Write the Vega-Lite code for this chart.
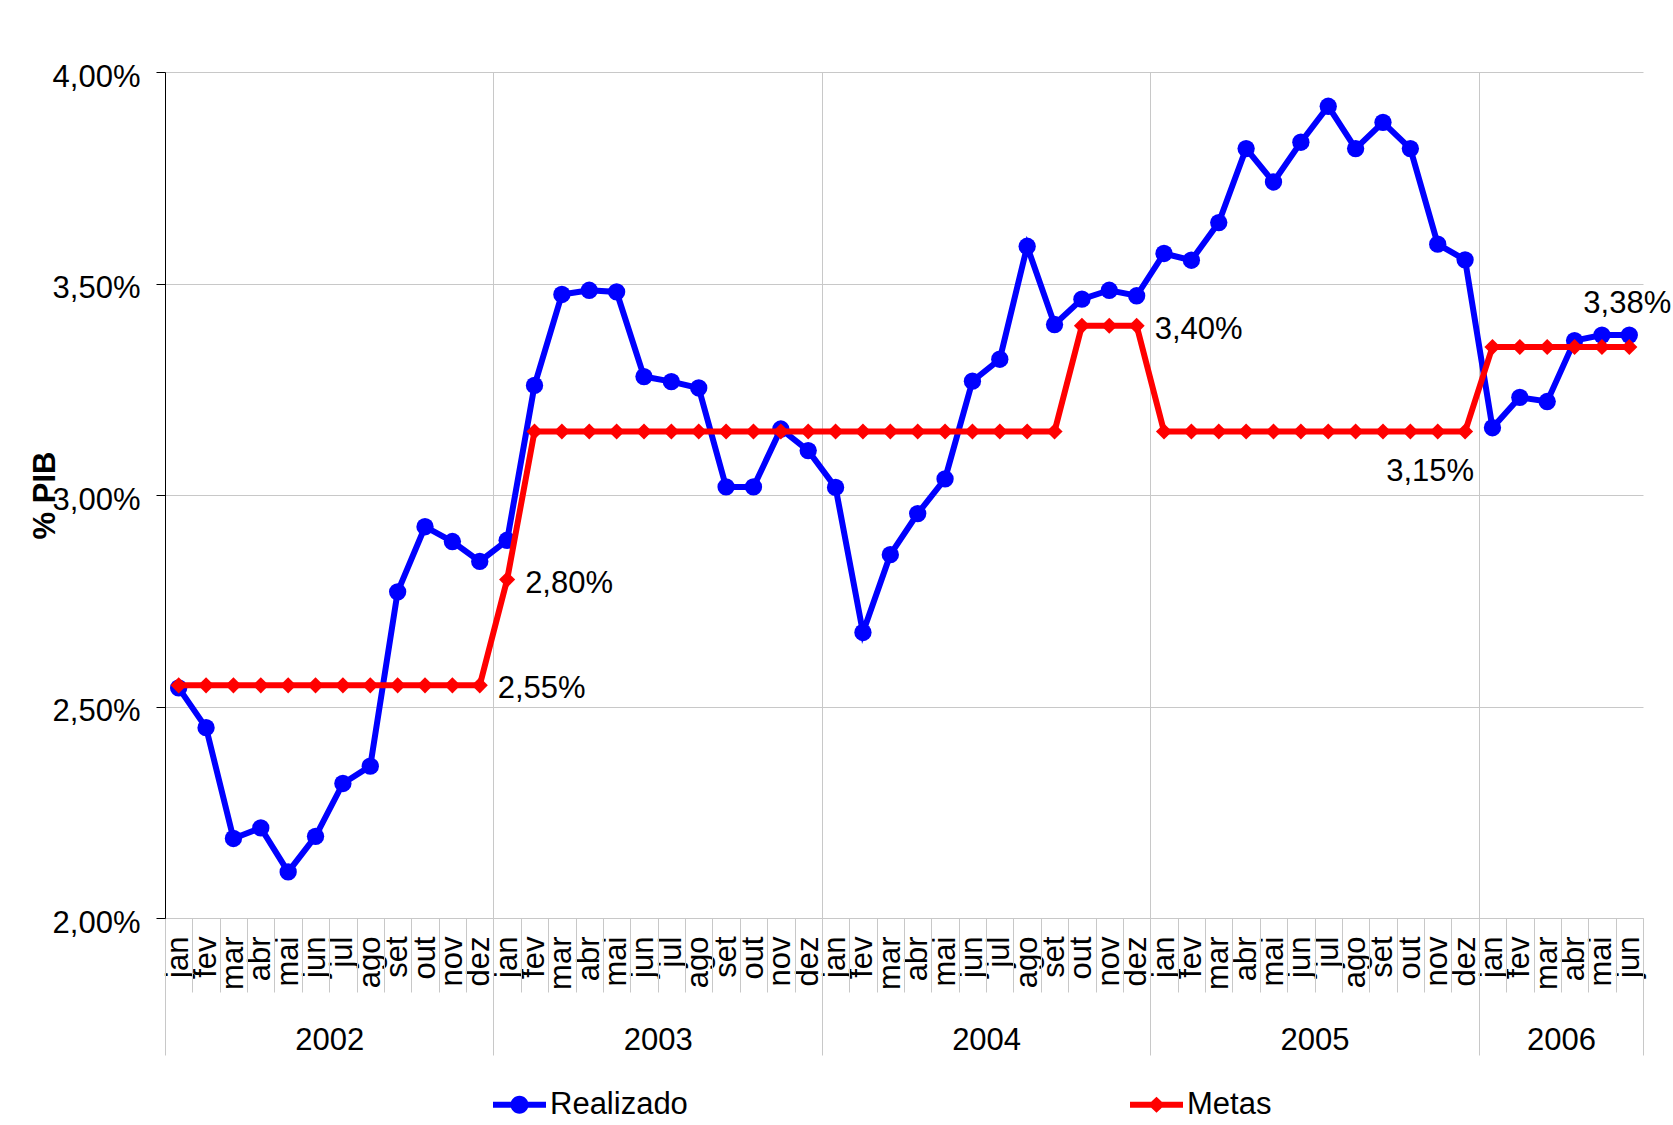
{
  "$schema": "https://vega.github.io/schema/vega-lite/v6.json",
  "width": 1478,
  "height": 846,
  "autosize": {"type": "none"},
  "padding": {"left": 165, "top": 72, "right": 30, "bottom": 207},
  "background": "white",
  "config": {"font": "Liberation Sans", "view": {"stroke": null}},
  "data": {"values": [
    {"i":0,"serie":"Realizado","valor":2.544},{"i":1,"serie":"Realizado","valor":2.45},{"i":2,"serie":"Realizado","valor":2.188},{"i":3,"serie":"Realizado","valor":2.213},{"i":4,"serie":"Realizado","valor":2.109},{"i":5,"serie":"Realizado","valor":2.193},{"i":6,"serie":"Realizado","valor":2.318},{"i":7,"serie":"Realizado","valor":2.359},{"i":8,"serie":"Realizado","valor":2.771},{"i":9,"serie":"Realizado","valor":2.925},{"i":10,"serie":"Realizado","valor":2.89},{"i":11,"serie":"Realizado","valor":2.843},
    {"i":12,"serie":"Realizado","valor":2.893},{"i":13,"serie":"Realizado","valor":3.259},{"i":14,"serie":"Realizado","valor":3.474},{"i":15,"serie":"Realizado","valor":3.484},{"i":16,"serie":"Realizado","valor":3.48},{"i":17,"serie":"Realizado","valor":3.28},{"i":18,"serie":"Realizado","valor":3.268},{"i":19,"serie":"Realizado","valor":3.253},{"i":20,"serie":"Realizado","valor":3.019},{"i":21,"serie":"Realizado","valor":3.019},{"i":22,"serie":"Realizado","valor":3.156},{"i":23,"serie":"Realizado","valor":3.105},
    {"i":24,"serie":"Realizado","valor":3.018},{"i":25,"serie":"Realizado","valor":2.675},{"i":26,"serie":"Realizado","valor":2.859},{"i":27,"serie":"Realizado","valor":2.956},{"i":28,"serie":"Realizado","valor":3.038},{"i":29,"serie":"Realizado","valor":3.269},{"i":30,"serie":"Realizado","valor":3.321},{"i":31,"serie":"Realizado","valor":3.588},{"i":32,"serie":"Realizado","valor":3.403},{"i":33,"serie":"Realizado","valor":3.463},{"i":34,"serie":"Realizado","valor":3.484},{"i":35,"serie":"Realizado","valor":3.471},
    {"i":36,"serie":"Realizado","valor":3.571},{"i":37,"serie":"Realizado","valor":3.555},{"i":38,"serie":"Realizado","valor":3.644},{"i":39,"serie":"Realizado","valor":3.819},{"i":40,"serie":"Realizado","valor":3.74},{"i":41,"serie":"Realizado","valor":3.834},{"i":42,"serie":"Realizado","valor":3.919},{"i":43,"serie":"Realizado","valor":3.819},{"i":44,"serie":"Realizado","valor":3.881},{"i":45,"serie":"Realizado","valor":3.819},{"i":46,"serie":"Realizado","valor":3.593},{"i":47,"serie":"Realizado","valor":3.556},
    {"i":48,"serie":"Realizado","valor":3.159},{"i":49,"serie":"Realizado","valor":3.231},{"i":50,"serie":"Realizado","valor":3.221},{"i":51,"serie":"Realizado","valor":3.365},{"i":52,"serie":"Realizado","valor":3.378},{"i":53,"serie":"Realizado","valor":3.378,"rotulo":"3,38%"},
    {"i":0,"serie":"Metas","valor":2.55},{"i":1,"serie":"Metas","valor":2.55},{"i":2,"serie":"Metas","valor":2.55},{"i":3,"serie":"Metas","valor":2.55},{"i":4,"serie":"Metas","valor":2.55},{"i":5,"serie":"Metas","valor":2.55},{"i":6,"serie":"Metas","valor":2.55},{"i":7,"serie":"Metas","valor":2.55},{"i":8,"serie":"Metas","valor":2.55},{"i":9,"serie":"Metas","valor":2.55},{"i":10,"serie":"Metas","valor":2.55},{"i":11,"serie":"Metas","valor":2.55,"rotulo":"2,55%"},
    {"i":12,"serie":"Metas","valor":2.8,"rotulo":"2,80%"},{"i":13,"serie":"Metas","valor":3.15},{"i":14,"serie":"Metas","valor":3.15},{"i":15,"serie":"Metas","valor":3.15},{"i":16,"serie":"Metas","valor":3.15},{"i":17,"serie":"Metas","valor":3.15},{"i":18,"serie":"Metas","valor":3.15},{"i":19,"serie":"Metas","valor":3.15},{"i":20,"serie":"Metas","valor":3.15},{"i":21,"serie":"Metas","valor":3.15},{"i":22,"serie":"Metas","valor":3.15},{"i":23,"serie":"Metas","valor":3.15},
    {"i":24,"serie":"Metas","valor":3.15},{"i":25,"serie":"Metas","valor":3.15},{"i":26,"serie":"Metas","valor":3.15},{"i":27,"serie":"Metas","valor":3.15},{"i":28,"serie":"Metas","valor":3.15},{"i":29,"serie":"Metas","valor":3.15},{"i":30,"serie":"Metas","valor":3.15},{"i":31,"serie":"Metas","valor":3.15},{"i":32,"serie":"Metas","valor":3.15},{"i":33,"serie":"Metas","valor":3.4},{"i":34,"serie":"Metas","valor":3.4},{"i":35,"serie":"Metas","valor":3.4,"rotulo":"3,40%"},
    {"i":36,"serie":"Metas","valor":3.15},{"i":37,"serie":"Metas","valor":3.15},{"i":38,"serie":"Metas","valor":3.15},{"i":39,"serie":"Metas","valor":3.15},{"i":40,"serie":"Metas","valor":3.15},{"i":41,"serie":"Metas","valor":3.15},{"i":42,"serie":"Metas","valor":3.15},{"i":43,"serie":"Metas","valor":3.15},{"i":44,"serie":"Metas","valor":3.15},{"i":45,"serie":"Metas","valor":3.15},{"i":46,"serie":"Metas","valor":3.15},{"i":47,"serie":"Metas","valor":3.15,"rotulo":"3,15%"},
    {"i":48,"serie":"Metas","valor":3.35},{"i":49,"serie":"Metas","valor":3.35},{"i":50,"serie":"Metas","valor":3.35},{"i":51,"serie":"Metas","valor":3.35},{"i":52,"serie":"Metas","valor":3.35},{"i":53,"serie":"Metas","valor":3.35}
  ]},
  "layer": [
    {
      "transform": [{"filter": "datum.serie === 'Realizado'"}],
      "mark": {"type": "line", "strokeWidth": 6},
      "encoding": {
        "x": {"field": "i", "type": "quantitative", "scale": {"domain": [-0.5, 53.5], "nice": false, "zero": false},
          "axis": {"orient": "bottom", "values": [0,1,2,3,4,5,6,7,8,9,10,11,12,13,14,15,16,17,18,19,20,21,22,23,24,25,26,27,28,29,30,31,32,33,34,35,36,37,38,39,40,41,42,43,44,45,46,47,48,49,50,51,52,53],
            "labelExpr": "['jan','fev','mar','abr','mai','jun','jul','ago','set','out','nov','dez'][datum.value % 12]",
            "labelAngle": -90, "labelFontSize": 31, "labelColor": "black", "labelPadding": 18,
            "labelOverlap": false, "labelBound": false, "labelFlush": false,
            "ticks": false, "domain": true, "domainColor": "#c8c8c8", "domainWidth": 1, "grid": false, "title": null}},
        "y": {"field": "valor", "type": "quantitative", "scale": {"domain": [2, 4], "nice": false, "zero": false},
          "axis": {"orient": "left", "values": [2, 2.5, 3, 3.5, 4],
            "labelExpr": "replace(format(datum.value, '.2f'), '.', ',') + '%'",
            "labelFontSize": 31, "labelColor": "black", "labelPadding": 16, "labelOffset": 5,
            "tickSize": 9, "tickColor": "black", "domainColor": "black",
            "grid": true, "gridColor": "#c8c8c8",
            "title": "% PIB", "titleFontSize": 31, "titleFontWeight": "bold", "titleColor": "black",
            "titleAngle": -90, "titleX": -120, "titleY": 423, "titleAlign": "center", "titleBaseline": "middle"}},
        "color": {"field": "serie", "type": "nominal", "scale": {"domain": ["Realizado", "Metas"], "range": ["#0000ff", "#ff0000"]},
          "legend": {"title": null, "orient": "none", "legendX": 328, "legendY": 1006, "direction": "horizontal", "columns": 2,
            "columnPadding": 442, "labelFontSize": 31, "labelColor": "black", "labelOffset": 4,
            "symbolSize": 2809, "symbolStrokeWidth": 0,
            "encode": {"symbols": {"update": {
              "shape": {"signal": "datum.value === 'Realizado' ? 'M-1,-0.11H1V0.11H-1Z M-0.34,0A0.34,0.34 0 1,1 0.34,0A0.34,0.34 0 1,1 -0.34,0Z' : 'M-1,-0.11H1V0.11H-1Z M0,-0.3L0.32,0L0,0.3L-0.32,0Z'"},
              "fill": {"signal": "datum.value === 'Realizado' ? '#0000ff' : '#ff0000'"},
              "fillOpacity": {"value": 1},
              "strokeWidth": {"value": 0}}}}}}
      }
    },
    {
      "transform": [{"filter": "datum.serie === 'Realizado'"}],
      "mark": {"type": "point", "shape": "circle", "filled": true, "opacity": 1, "size": 300},
      "encoding": {
        "x": {"field": "i", "type": "quantitative", "scale": {"domain": [-0.5, 53.5], "nice": false, "zero": false},
          "axis": {"orient": "bottom", "values": [-0.5,0.5,1.5,2.5,3.5,4.5,5.5,6.5,7.5,8.5,9.5,10.5,11.5,12.5,13.5,14.5,15.5,16.5,17.5,18.5,19.5,20.5,21.5,22.5,23.5,24.5,25.5,26.5,27.5,28.5,29.5,30.5,31.5,32.5,33.5,34.5,35.5,36.5,37.5,38.5,39.5,40.5,41.5,42.5,43.5,44.5,45.5,46.5,47.5,48.5,49.5,50.5,51.5,52.5,53.5],
            "labels": false, "ticks": true, "tickSize": 74, "tickColor": "#c8c8c8", "domain": false, "grid": false, "title": null}},
        "y": {"field": "valor", "type": "quantitative", "axis": null},
        "color": {"field": "serie", "type": "nominal"}
      }
    },
    {
      "transform": [{"filter": "datum.serie === 'Metas'"}],
      "mark": {"type": "line", "strokeWidth": 6},
      "encoding": {
        "x": {"field": "i", "type": "quantitative", "scale": {"domain": [-0.5, 53.5], "nice": false, "zero": false},
          "axis": {"orient": "bottom", "values": [5.5, 17.5, 29.5, 41.5, 50.5],
            "labelExpr": "'' + (2002 + floor(datum.value / 12))",
            "labelAngle": 0, "labelFontSize": 31, "labelColor": "black", "labelPadding": 107,
            "labelOverlap": false, "labelBound": false, "labelFlush": false,
            "ticks": false, "domain": false, "grid": false, "title": null}},
        "y": {"field": "valor", "type": "quantitative", "axis": null},
        "color": {"field": "serie", "type": "nominal"}
      }
    },
    {
      "transform": [{"filter": "datum.serie === 'Metas'"}],
      "mark": {"type": "point", "shape": "diamond", "filled": true, "opacity": 1, "size": 260},
      "encoding": {
        "x": {"field": "i", "type": "quantitative", "scale": {"domain": [-0.5, 53.5], "nice": false, "zero": false},
          "axis": {"orient": "bottom", "values": [-0.5, 11.5, 23.5, 35.5, 47.5, 53.5],
            "labels": false, "ticks": true, "tickSize": 137, "tickColor": "#c8c8c8", "domain": false, "grid": false, "title": null}},
        "y": {"field": "valor", "type": "quantitative", "axis": null},
        "color": {"field": "serie", "type": "nominal"}
      }
    },
    {
      "transform": [{"filter": "datum.rotulo && datum.serie === 'Metas' && datum.i !== 47"}],
      "mark": {"type": "text", "align": "left", "baseline": "middle", "dx": 18, "dy": 4, "fontSize": 31, "color": "black"},
      "encoding": {
        "x": {"field": "i", "type": "quantitative", "scale": {"domain": [-0.5, 53.5], "nice": false, "zero": false},
          "axis": {"orient": "bottom", "values": [11.5, 23.5, 35.5, 47.5],
            "labels": false, "ticks": false, "domain": false, "grid": true, "gridColor": "#c8c8c8", "title": null}},
        "y": {"field": "valor", "type": "quantitative", "axis": null},
        "text": {"field": "rotulo"}
      }
    },
    {
      "transform": [{"filter": "datum.rotulo && datum.serie === 'Metas' && datum.i === 47"}],
      "mark": {"type": "text", "align": "right", "baseline": "middle", "dx": 9, "dy": 40, "fontSize": 31, "color": "black"},
      "encoding": {
        "x": {"field": "i", "type": "quantitative", "scale": {"domain": [-0.5, 53.5], "nice": false, "zero": false}, "axis": null},
        "y": {"field": "valor", "type": "quantitative", "axis": null},
        "text": {"field": "rotulo"}
      }
    },
    {
      "transform": [{"filter": "datum.rotulo && datum.serie === 'Realizado'"}],
      "mark": {"type": "text", "align": "center", "baseline": "middle", "dx": -2, "dy": -31, "fontSize": 31, "color": "black"},
      "encoding": {
        "x": {"field": "i", "type": "quantitative", "scale": {"domain": [-0.5, 53.5], "nice": false, "zero": false}, "axis": null},
        "y": {"field": "valor", "type": "quantitative", "axis": null},
        "text": {"field": "rotulo"}
      }
    }
  ],
  "resolve": {"axis": {"x": "independent", "y": "independent"}}
}
